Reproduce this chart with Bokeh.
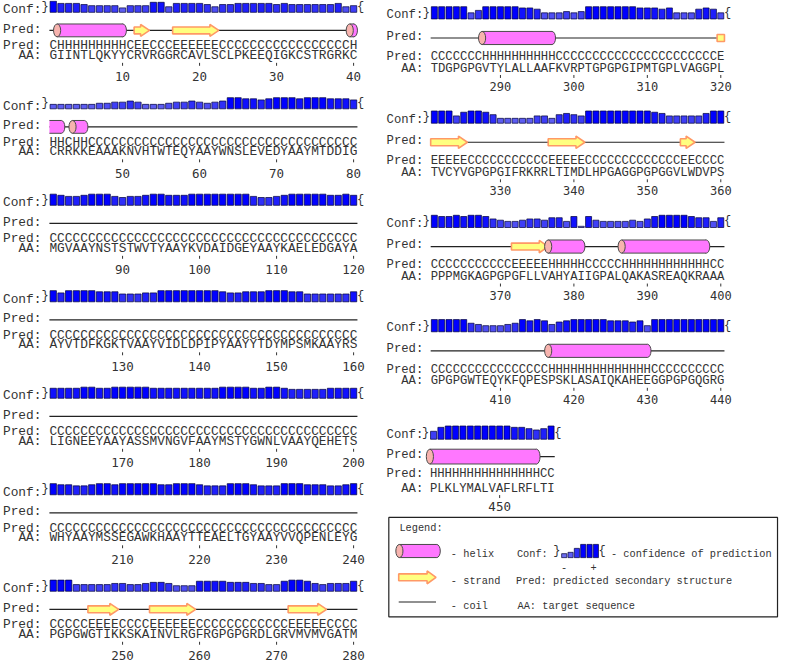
from bokeh.plotting import figure
from bokeh.models import Range1d, ColumnDataSource
from bokeh.embed import file_html
from bokeh.resources import INLINE
from bokeh.core.properties import value

# ---------------- data ----------------
BLOCK_START = [1, 41, 81, 121, 161, 201, 241, 281, 321, 361, 401, 441]

AA_SEQ = [
    "GIINTLQKYYCRVRGGRCAVLSCLPKEEQIGKCSTRGRKC",
    "CRRKKEAAAKNVHTWTEQYAAYWNSLEVEDYAAYMTDDIG",
    "MGVAAYNSTSTWVTYAAYKVDAIDGEYAAYKAELEDGAYA",
    "AYVTDFKGKTVAAYVIDLDPIPYAAYYTDYMPSMKAAYRS",
    "LIGNEEYAAYASSMVNGVFAAYMSTYGWNLVAAYQEHETS",
    "WHYAAYMSSEGAWKHAAYTTEAELTGYAAYVVQPENLEYG",
    "PGPGWGTIKKSKAINVLRGFRGPGPGRDLGRVMVMVGATM",
    "TDGPGPGVTYLALLAAFKVRPTGPGPGIPMTGPLVAGGPL",
    "TVCYVGPGPGIFRKRRLTIMDLHPGAGGPGPGGVLWDVPS",
    "PPPMGKAGPGPGFLLVAHYAIIGPALQAKASREAQKRAAA",
    "GPGPGWTEQYKFQPESPSKLASAIQKAHEEGGPGPGQGRG",
    "PLKLYMALVAFLRFLTI",
]

PRED_SS = [
    "CHHHHHHHHH" "CEECCCEEEE" "EECCCCCCCC" "CCCCCCCCCH",
    "HHCHHCCCCC" "CCCCCCCCCC" "CCCCCCCCCC" "CCCCCCCCCC",
    "CCCCCCCCCC" "CCCCCCCCCC" "CCCCCCCCCC" "CCCCCCCCCC",
    "CCCCCCCCCC" "CCCCCCCCCC" "CCCCCCCCCC" "CCCCCCCCCC",
    "CCCCCCCCCC" "CCCCCCCCCC" "CCCCCCCCCC" "CCCCCCCCCC",
    "CCCCCCCCCC" "CCCCCCCCCC" "CCCCCCCCCC" "CCCCCCCCCC",
    "CCCCCEEEEC" "CCCEEEEEEC" "CCCCCCCCCC" "CEEEEECCCC",
    "CCCCCCCHHH" "HHHHHHHCCC" "CCCCCCCCCC" "CCCCCCCCCE",
    "EEEEECCCCC" "CCCCCCEEEE" "ECCCCCCCCC" "CCCCEECCCC",
    "CCCCCCCCCC" "CEEEEEHHHH" "HCCCCCHHHH" "HHHHHHHHCC",
    "CCCCCCCCCC" "CCCCCCHHHH" "HHHHHHHHHH" "CCCCCCCCCC",
    "HHHHHHHHHH" "HHHHHCC",
]

CONF = [
    [9, 7, 7, 7, 6, 5, 5, 5, 5, 3, 5, 5, 5, 8, 8, 4, 7, 7, 7, 7,
     6, 4, 6, 6, 7, 7, 7, 7, 7, 6, 7, 6, 6, 6, 6, 6, 6, 7, 4, 5],
    [3, 3, 3, 3, 3, 3, 4, 4, 5, 5, 6, 5, 3, 3, 3, 4, 5, 5, 6, 5,
     4, 5, 6, 9, 9, 8, 8, 7, 8, 9, 9, 9, 8, 9, 9, 9, 8, 8, 8, 7],
    [9, 8, 7, 7, 8, 9, 9, 9, 7, 6, 7, 7, 8, 9, 9, 8, 8, 8, 9, 9,
     9, 9, 9, 9, 9, 9, 7, 6, 6, 7, 8, 9, 9, 9, 9, 9, 8, 8, 9, 8],
    [9, 7, 9, 9, 9, 9, 8, 8, 8, 6, 6, 6, 7, 7, 9, 9, 9, 9, 9, 9,
     9, 9, 8, 7, 7, 8, 8, 8, 9, 9, 9, 8, 8, 6, 6, 6, 6, 6, 6, 8],
    [8, 8, 8, 8, 9, 9, 8, 8, 9, 9, 9, 9, 9, 8, 8, 8, 8, 8, 8, 8,
     8, 8, 9, 9, 9, 9, 8, 8, 9, 9, 8, 7, 7, 7, 7, 7, 8, 8, 8, 8],
    [9, 8, 8, 7, 7, 8, 9, 9, 8, 9, 9, 9, 9, 9, 8, 8, 9, 9, 9, 8,
     7, 7, 7, 9, 9, 9, 8, 7, 7, 7, 9, 9, 9, 8, 8, 8, 7, 7, 8, 9],
    [9, 9, 9, 5, 5, 5, 5, 5, 6, 6, 5, 5, 6, 7, 7, 6, 4, 4, 4, 8,
     8, 8, 8, 7, 7, 7, 6, 6, 5, 5, 8, 9, 9, 8, 6, 5, 6, 6, 6, 8],
    [9, 9, 9, 9, 9, 4, 6, 9, 9, 9, 9, 9, 8, 8, 7, 4, 4, 4, 5, 4,
     5, 9, 9, 9, 9, 9, 9, 9, 8, 8, 8, 7, 8, 4, 4, 4, 7, 8, 7, 4],
    [9, 9, 9, 5, 8, 9, 9, 8, 6, 3, 3, 3, 3, 3, 5, 5, 3, 6, 7, 6,
     5, 9, 9, 9, 9, 9, 9, 9, 9, 9, 8, 7, 5, 5, 5, 5, 5, 7, 9, 9],
    [9, 8, 8, 9, 8, 9, 9, 8, 6, 5, 4, 4, 5, 6, 6, 5, 7, 7, 4, 8,
     0, 8, 5, 4, 4, 4, 4, 5, 4, 6, 8, 9, 9, 9, 9, 8, 7, 7, 4, 7],
    [9, 9, 9, 9, 9, 6, 5, 4, 4, 4, 5, 6, 9, 8, 9, 8, 5, 7, 8, 9,
     9, 9, 9, 9, 8, 8, 8, 7, 8, 4, 9, 9, 9, 9, 9, 9, 9, 9, 9, 9],
    [5, 8, 9, 9, 9, 9, 9, 9, 9, 9, 9, 8, 8, 7, 6, 7, 9],
]

LEGEND_CONF = [2, 3, 6, 9, 9, 9]
TICK_STEP = 10

for a, s, c in zip(AA_SEQ, PRED_SS, CONF):
    assert len(a) == len(s) == len(c), (a, len(a), len(s), len(c))

FULL_SS = "".join(PRED_SS)

# ---------------- layout ----------------
REF_W = 787
REF_Y0, REF_Y1 = 2.0, 673.0
FIG_W, FIG_H = 779, 662
SX = FIG_W / REF_W

STYLES = {
    "L": dict(x0=53.3, pitch=7.78, lbl_x=2.5, bar_bot=-33.7, bar_h=11.3,
              conf_lbl=-36.3, cart=-15.4, pred_lbl=-16.5, aa=10.0,
              tick=(17.5, 20.5), num=31.6, cyl_h=13.0, arr_hh=12.0,
              arr_bh=7.0, num_fs=12.5),
    "R": dict(x0=438.3, pitch=7.42, lbl_x=390.0, bar_bot=-38.3, bar_h=12.4,
              conf_lbl=-42.0, cart=-19.0, pred_lbl=-20.5, aa=12.0,
              tick=(18.5, 21.5), num=30.3, cyl_h=13.3, arr_hh=12.5,
              arr_bh=7.0, num_fs=12.0),
    "B": dict(x0=437.5, pitch=7.42, lbl_x=390.0, bar_bot=-35.6, bar_h=13.4,
              conf_lbl=-39.6, cart=-18.0, pred_lbl=-19.6, aa=14.4,
              tick=(21.0, 24.0), num=32.7, cyl_h=15.0, arr_hh=13.0,
              arr_bh=7.5, num_fs=12.5),
}
BLOCK_STYLE = ["L"] * 7 + ["R"] * 4 + ["B"]
BLOCK_Y = [47.7 + 97.8 * k for k in range(7)] + [59.0 + 105.7 * k for k in range(4)] + [482.3]

MONO = "Liberation Mono"
NUMF = "DejaVu Sans Mono"
TXT = "#333333"
HELIX_FILL = "#ff77ff"
CAP_FILL = "#f7b3ae"
HELIX_LINE = "#4a4a4a"
STRAND_FILL = "#ffff80"
STRAND_LINE = "#ff9966"
BAR_LINE = "#00003a"


def conf_color(c):
    t = c / 9.0
    r = int(round(140 * (1 - t)))
    b = int(round(235 + 20 * t))
    return "#%02x%02x%02x" % (r, r, b)


p = figure(width=FIG_W, height=FIG_H, output_backend="svg", toolbar_location=None,
           x_range=Range1d(0, REF_W), y_range=Range1d(REF_Y1, REF_Y0),
           x_axis_type=None, y_axis_type=None, min_border=0)
p.outline_line_color = None
p.background_fill_color = "white"
p.border_fill_color = "white"

bars = dict(l=[], r=[], t=[], b=[], c=[])
coil = dict(x0=[], y0=[], x1=[], y1=[])
strands = dict(xs=[], ys=[])
hx = dict(body_l=[], body_r=[], body_t=[], body_b=[], end_x=[], end_y=[], end_w=[], end_h=[],
          seg_x0=[], seg_x1=[], seg_y=[], cap_x=[], cap_y=[], cap_w=[], cap_h=[])
ticks = dict(x0=[], y0=[], x1=[], y1=[])
texts = {}   # (font, size, align) -> list of (x, y, text)


def add_text(font, size, align, x, y, t):
    texts.setdefault((font, size, align), []).append((x, y, t))


def add_helix(xs, xe, cy, h, cap):
    r = 3.6
    hx["body_l"].append(xs); hx["body_r"].append(xe - r)
    hx["body_t"].append(cy - h / 2); hx["body_b"].append(cy + h / 2)
    hx["end_x"].append(xe - r); hx["end_y"].append(cy); hx["end_w"].append(2 * r); hx["end_h"].append(h)
    for yy in (cy - h / 2, cy + h / 2):
        hx["seg_x0"].append(xs); hx["seg_x1"].append(xe - r); hx["seg_y"].append(yy)
    if cap:
        hx["cap_x"].append(xs); hx["cap_y"].append(cy); hx["cap_w"].append(2 * r); hx["cap_h"].append(h)


def add_strand(xs, xe, cy, bh, hh, head):
    if head:
        hl = min(9.0, xe - xs)
        strands["xs"].append([xs, xe - hl, xe - hl, xe, xe - hl, xe - hl, xs])
        strands["ys"].append([cy - bh / 2, cy - bh / 2, cy - hh / 2, cy, cy + hh / 2, cy + bh / 2, cy + bh / 2])
    else:
        strands["xs"].append([xs, xe, xe, xs])
        strands["ys"].append([cy - bh / 2, cy - bh / 2, cy + bh / 2, cy + bh / 2])


def segments(ss, ch):
    out, i = [], 0
    while i < len(ss):
        if ss[i] == ch:
            j = i
            while j + 1 < len(ss) and ss[j + 1] == ch:
                j += 1
            out.append((i, j))
            i = j + 1
        else:
            i += 1
    return out


for bi, (start, aa, ss, cf) in enumerate(zip(BLOCK_START, AA_SEQ, PRED_SS, CONF)):
    st = STYLES[BLOCK_STYLE[bi]]
    P = BLOCK_Y[bi]
    x0, pt = st["x0"], st["pitch"]
    n = len(aa)
    fs = "%.2fpx" % (pt * SX / 0.6)
    left_edge = x0 - pt / 2
    right_edge = x0 + (n - 0.5) * pt

    # confidence bars
    base = P + st["bar_bot"]
    for i, c in enumerate(cf):
        xc = x0 + i * pt
        bars["l"].append(xc - pt * 0.41); bars["r"].append(xc + pt * 0.41)
        bars["b"].append(base); bars["t"].append(base - st["bar_h"] * (c + 1) / 10.0)
        bars["c"].append(conf_color(c))
    add_text(MONO, "12px", "right", left_edge - 0.8, base - st["bar_h"] / 2, "}")
    add_text(MONO, "12px", "left", right_edge - 0.5, base - st["bar_h"] / 2, "{")

    # labels
    lx = st["lbl_x"]
    add_text(MONO, fs, "left", lx, P + st["conf_lbl"], "Conf:")
    add_text(MONO, fs, "left", lx, P + st["pred_lbl"], "Pred:")
    add_text(MONO, fs, "left", lx, P, "Pred:")
    add_text(MONO, fs, "left", lx + 2 * pt, P + st["aa"], "AA:")
    add_text(MONO, fs, "left", left_edge, P, ss)
    add_text(MONO, fs, "left", left_edge, P + st["aa"], aa)

    # cartoon
    cy = P + st["cart"]
    coil["x0"].append(left_edge); coil["x1"].append(right_edge)
    coil["y0"].append(cy); coil["y1"].append(cy)
    g0 = start - 1
    for s, e in segments(ss, "E"):
        cont_right = (g0 + e + 1 < len(FULL_SS)) and FULL_SS[g0 + e + 1] == "E" and e == n - 1
        add_strand(x0 + (s - 0.5) * pt, x0 + (e + 0.5) * pt, cy, st["arr_bh"], st["arr_hh"], not cont_right)
    for s, e in segments(ss, "H"):
        cap = not (s == 0 and g0 > 0 and FULL_SS[g0 - 1] == "H")
        add_helix(x0 + (s - 0.5) * pt, x0 + (e + 0.5) * pt, cy, st["cyl_h"], cap)

    # ticks and numbers
    for i in range(n):
        num = start + i
        if num % TICK_STEP == 0:
            xc = x0 + i * pt
            ticks["x0"].append(xc); ticks["x1"].append(xc)
            ticks["y0"].append(P + st["tick"][0]); ticks["y1"].append(P + st["tick"][1])
            add_text(NUMF, "%.1fpx" % st["num_fs"], "center", xc, P + st["num"], str(num))

# ---------------- legend ----------------
LG = dict(box=(392.3, 785.0, 526.0, 626.7), fs="10.3px")
lx0, lx1, ly0, ly1 = LG["box"]
add_text(MONO, LG["fs"], "left", 403.0, 537.0, "Legend:")
add_helix(403.0, 444.3, 560.0, 13.3, True)
add_strand(402.3, 440.0, 586.7, 7.0, 13.0, True)
add_text(MONO, LG["fs"], "left", 455.0, 563.0, "- helix")
add_text(MONO, LG["fs"], "left", 455.0, 590.0, "- strand")
add_text(MONO, LG["fs"], "left", 455.0, 616.0, "- coil")
add_text(MONO, LG["fs"], "left", 521.7, 563.0, "Conf:")
add_text(MONO, LG["fs"], "left", 616.7, 563.0, "- confidence of prediction")
add_text(MONO, LG["fs"], "left", 520.7, 590.0, "Pred: predicted secondary structure")
add_text(MONO, LG["fs"], "left", 522.3, 616.0, "AA: target sequence")
lg_base, lg_h, lg_x0, lg_pt = 566.7, 13.4, 569.5, 6.4
for i, c in enumerate(LEGEND_CONF):
    xc = lg_x0 + i * lg_pt
    bars["l"].append(xc - 2.6); bars["r"].append(xc + 2.6)
    bars["b"].append(lg_base); bars["t"].append(lg_base - lg_h * (c + 1) / 10.0)
    bars["c"].append(conf_color(c))
add_text(MONO, "12px", "right", lg_x0 - lg_pt / 2 - 0.5, lg_base - lg_h / 2, "}")
add_text(MONO, "12px", "left", lg_x0 + (len(LEGEND_CONF) - 0.5) * lg_pt - 0.5, lg_base - lg_h / 2, "{")
add_text(MONO, LG["fs"], "center", 569.3, 576.5, "-")
add_text(MONO, LG["fs"], "center", 599.3, 577.0, "+")

# ---------------- draw ----------------
p.quad(left=lx0, right=lx1, top=ly0, bottom=ly1, fill_color=None, line_color="#222222", line_width=1.2)
p.segment(x0=402.3, y0=611.7, x1=440.0, y1=611.7, line_color="#222222", line_width=1.2)

p.segment(x0="x0", y0="y0", x1="x1", y1="y1", source=ColumnDataSource(coil), line_color="#222222", line_width=1.2)
p.quad(left="l", right="r", top="t", bottom="b", fill_color="c", line_color=BAR_LINE, line_width=0.7,
       source=ColumnDataSource(bars))
p.patches(xs="xs", ys="ys", source=ColumnDataSource(strands), fill_color=STRAND_FILL,
          line_color=STRAND_LINE, line_width=1.6)
p.ellipse(x=hx["end_x"], y=hx["end_y"], width=hx["end_w"], height=hx["end_h"], fill_color=HELIX_FILL,
          line_color=HELIX_LINE, line_width=1.0)
p.quad(left=hx["body_l"], right=hx["body_r"], top=hx["body_t"], bottom=hx["body_b"], fill_color=HELIX_FILL,
       line_color=None)
p.segment(x0=hx["seg_x0"], y0=hx["seg_y"], x1=hx["seg_x1"], y1=hx["seg_y"], line_color=HELIX_LINE, line_width=1.0)
p.ellipse(x=hx["cap_x"], y=hx["cap_y"], width=hx["cap_w"], height=hx["cap_h"], fill_color=CAP_FILL,
          line_color=HELIX_LINE, line_width=1.0)
p.segment(x0="x0", y0="y0", x1="x1", y1="y1", source=ColumnDataSource(ticks), line_color="#333333", line_width=1)

for (font, size, align), items in texts.items():
    src = ColumnDataSource(dict(x=[i[0] for i in items], y=[i[1] for i in items], t=[i[2] for i in items]))
    p.text(x="x", y="y", text="t", source=src, text_font=value(font), text_font_size=value(size),
           text_color=TXT, text_align=align, text_baseline="middle")

open("out.html", "w").write(file_html(p, INLINE))
